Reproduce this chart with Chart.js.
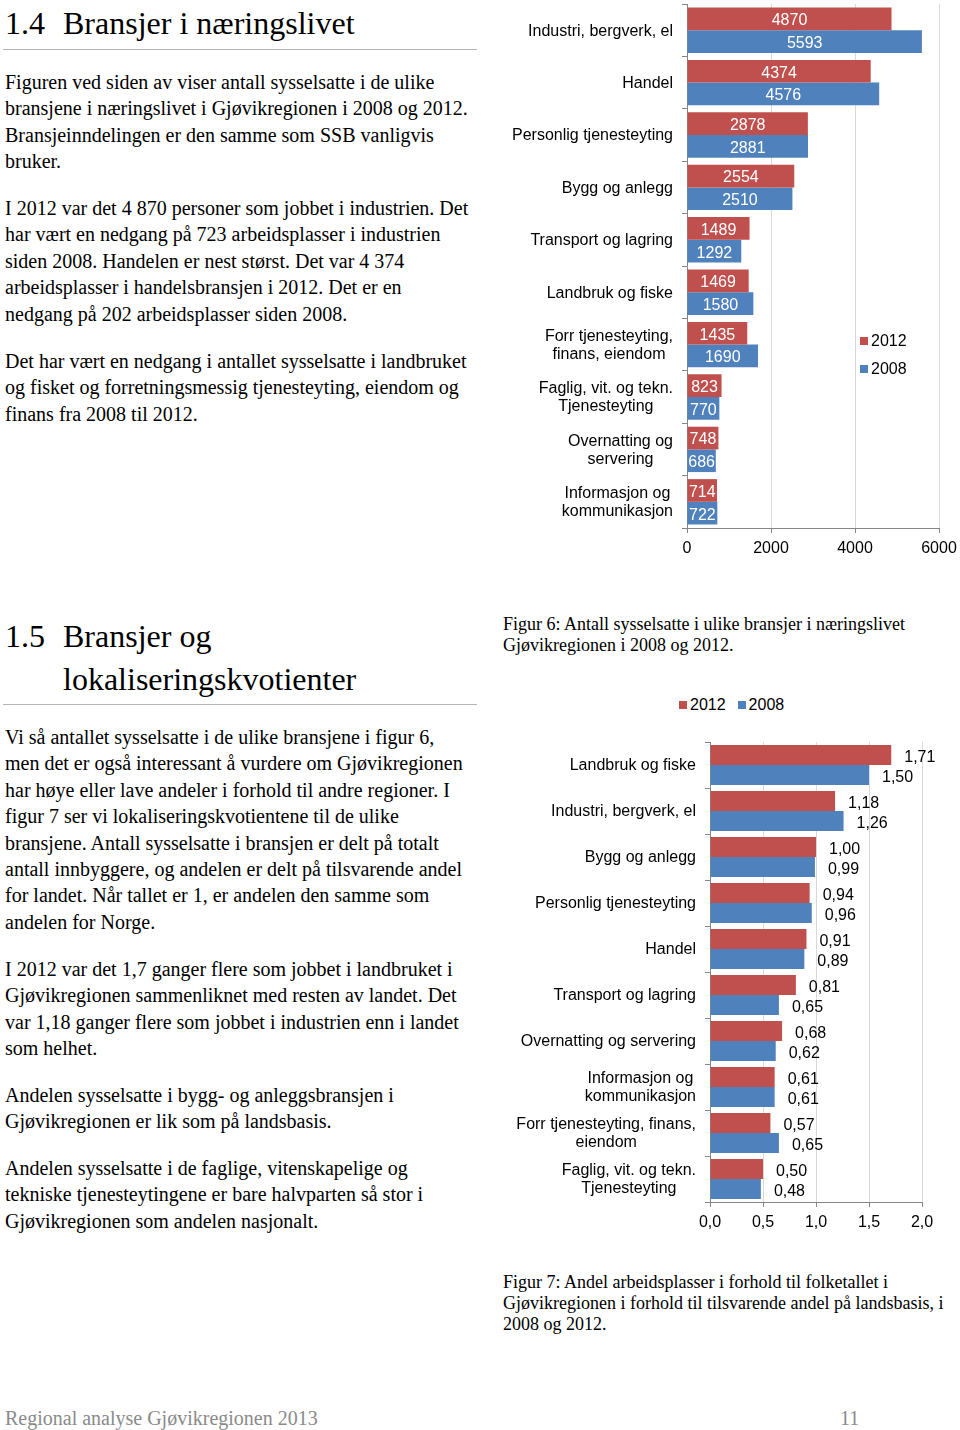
<!DOCTYPE html>
<html lang="no">
<head>
<meta charset="utf-8">
<title>Bransjer i næringslivet</title>
<script src="https://cdn.jsdelivr.net/npm/chart.js@4.4.1/dist/chart.umd.min.js"></script>
<style>
  html, body { margin: 0; padding: 0; background: #fff; }
  body { width: 960px; height: 1430px; position: relative; overflow: hidden;
         font-family: "Liberation Serif", "Times New Roman", serif; color: #000; }
  .abs { position: absolute; white-space: nowrap; }
  .h { font-size: 32px; }
  .p { font-size: 20px; line-height: 26.4px; left: 5px; }
  .cap { font-size: 18px; line-height: 21px; left: 503px; }
  .rule { position: absolute; left: 3px; width: 474px; height: 1px; background: #b4b4b4; }
  canvas { position: absolute; }
  .legend { position: absolute; font: 16px "Liberation Sans", Arial, sans-serif; color: #000; display: flex; }
  .legend .item { display: flex; align-items: center; height: 18px; line-height: 18px; }
  .legend .sw { width: 8px; height: 8px; margin-right: 3px; }
  .footer { font-size: 20px; color: #8a8a8a; top: 1406px; line-height: 24px; }
</style>
</head>
<body>

<div class="abs h" style="left:5px; top:3px; line-height:40px;">1.4</div>
<div class="abs h" style="left:63px; top:3px; line-height:40px;">Bransjer i næringslivet</div>
<div class="rule" style="top:49px;"></div>

<div class="abs p" style="top:69px;">Figuren ved siden av viser antall sysselsatte i de ulike<br>bransjene i næringslivet i Gjøvikregionen i 2008 og 2012.<br>Bransjeinndelingen er den samme som SSB vanligvis<br>bruker.</div>
<div class="abs p" style="top:195px;">I 2012 var det 4 870 personer som jobbet i industrien. Det<br>har vært en nedgang på 723 arbeidsplasser i industrien<br>siden 2008. Handelen er nest størst. Det var 4 374<br>arbeidsplasser i handelsbransjen i 2012. Det er en<br>nedgang på 202 arbeidsplasser siden 2008.</div>
<div class="abs p" style="top:348px;">Det har vært en nedgang i antallet sysselsatte i landbruket<br>og fisket og forretningsmessig tjenesteyting, eiendom og<br>finans fra 2008 til 2012.</div>

<div class="abs h" style="left:5px; top:615px; line-height:43px;">1.5</div>
<div class="abs h" style="left:63px; top:615px; line-height:43px;">Bransjer og<br>lokaliseringskvotienter</div>
<div class="rule" style="top:704px;"></div>

<div class="abs p" style="top:724px;">Vi så antallet sysselsatte i de ulike bransjene i figur 6,<br>men det er også interessant å vurdere om Gjøvikregionen<br>har høye eller lave andeler i forhold til andre regioner. I<br>figur 7 ser vi lokaliseringskvotientene til de ulike<br>bransjene. Antall sysselsatte i bransjen er delt på totalt<br>antall innbyggere, og andelen er delt på tilsvarende andel<br>for landet. Når tallet er 1, er andelen den samme som<br>andelen for Norge.</div>
<div class="abs p" style="top:956px;">I 2012 var det 1,7 ganger flere som jobbet i landbruket i<br>Gjøvikregionen sammenliknet med resten av landet. Det<br>var 1,18 ganger flere som jobbet i industrien enn i landet<br>som helhet.</div>
<div class="abs p" style="top:1082px;">Andelen sysselsatte i bygg- og anleggsbransjen i<br>Gjøvikregionen er lik som på landsbasis.</div>
<div class="abs p" style="top:1155px;">Andelen sysselsatte i de faglige, vitenskapelige og<br>tekniske tjenesteytingene er bare halvparten så stor i<br>Gjøvikregionen som andelen nasjonalt.</div>

<div class="abs cap" style="top:614px;">Figur 6: Antall sysselsatte i ulike bransjer i næringslivet<br>Gjøvikregionen i 2008 og 2012.</div>
<div class="abs cap" style="top:1272px;">Figur 7: Andel arbeidsplasser i forhold til folketallet i<br>Gjøvikregionen i forhold til tilsvarende andel på landsbasis, i<br>2008 og 2012.</div>

<div class="abs footer" style="left:5px;">Regional analyse Gjøvikregionen 2013</div>
<div class="abs footer" style="left:840px;">11</div>

<canvas id="jobsChart" width="480" height="570" style="left:480px; top:0px;"></canvas>
<div id="jobsLegend" class="legend" style="left:860px; top:332px; flex-direction:column; gap:10px;"></div>

<canvas id="lqChart" width="460" height="510" style="left:500px; top:730px;"></canvas>
<div id="lqLegend" class="legend" style="left:679px; top:696px; flex-direction:row; gap:12px;"></div>

<script>
// Figur 6: sysselsatte per bransje
const jobSectors = [
    'Industri, bergverk, el',
    'Handel',
    'Personlig tjenesteyting',
    'Bygg og anlegg',
    'Transport og lagring',
    'Landbruk og fiske',
    ['Forr tjenesteyting,', 'finans, eiendom'],
    ['Faglig, vit. og tekn.', 'Tjenesteyting'],
    ['Overnatting og', 'servering'],
    ['Informasjon og', 'kommunikasjon']
];
const jobs2012 = [4870, 4374, 2878, 2554, 1489, 1469, 1435, 823, 748, 714];
const jobs2008 = [5593, 4576, 2881, 2510, 1292, 1580, 1690, 770, 686, 722];
const jobsAxisMax = 6000;
const jobsAxisStep = 2000;

// Figur 7: lokaliseringskvotienter
const lqSectors = [
    'Landbruk og fiske',
    'Industri, bergverk, el',
    'Bygg og anlegg',
    'Personlig tjenesteyting',
    'Handel',
    'Transport og lagring',
    'Overnatting og servering',
    ['Informasjon og', 'kommunikasjon'],
    ['Forr tjenesteyting, finans,', 'eiendom'],
    ['Faglig, vit. og tekn.', 'Tjenesteyting']
];
const lq2012 = [1.71, 1.18, 1.00, 0.94, 0.91, 0.81, 0.68, 0.61, 0.57, 0.50];
const lq2008 = [1.50, 1.26, 0.99, 0.96, 0.89, 0.65, 0.62, 0.61, 0.65, 0.48];
const lqAxisMax = 2.0;
const lqAxisStep = 0.5;

const seriesNames = ['2012', '2008'];
const RED = '#C0504D';
const BLUE = '#4F81BD';
const FONT = '16px "Liberation Sans", Arial, sans-serif';

Chart.defaults.font.family = '"Liberation Sans", Arial, sans-serif';
Chart.defaults.font.size = 16;
Chart.defaults.color = '#000';

// number formatting, norsk desimalkomma
function fmt(v, decimals) {
    return decimals ? v.toFixed(decimals).replace('.', ',') : String(v);
}

// category labels drawn centred per block, block right aligned to axis
const categoryLabels = {
    id: 'categoryLabels',
    afterDraw(chart, args, opts) {
        const { ctx, chartArea } = chart;
        const yScale = chart.scales.y;
        ctx.save();
        ctx.font = FONT;
        ctx.fillStyle = '#000';
        ctx.textAlign = 'center';
        ctx.textBaseline = 'middle';
        chart.data.labels.forEach((lab, i) => {
            const lines = Array.isArray(lab) ? lab : [lab];
            const w = Math.max(...lines.map(l => ctx.measureText(l).width));
            const cx = chartArea.left - opts.gap - w / 2;
            const cy = yScale.getPixelForTick(i) + 1;
            lines.forEach((l, k) => {
                ctx.fillText(l, cx, cy + (k - (lines.length - 1) / 2) * 18);
            });
        });
        ctx.restore();
    }
};

// value labels on the bars
const barValues = {
    id: 'barValues',
    afterDatasetsDraw(chart, args, opts) {
        const { ctx } = chart;
        ctx.save();
        ctx.font = FONT;
        ctx.textBaseline = 'middle';
        chart.data.datasets.forEach((ds, di) => {
            chart.getDatasetMeta(di).data.forEach((bar, i) => {
                const text = fmt(ds.data[i], opts.decimals);
                if (opts.inside) {
                    ctx.fillStyle = '#fff';
                    ctx.textAlign = 'center';
                    ctx.fillText(text, (bar.x + bar.base) / 2, bar.y + 2);
                } else {
                    ctx.fillStyle = '#000';
                    ctx.textAlign = 'left';
                    ctx.fillText(text, bar.x + opts.offset, bar.y + 2.5);
                }
            });
        });
        ctx.restore();
    }
};

function makeLegend(id, datasets) {
    const box = document.getElementById(id);
    datasets.forEach(ds => {
        const item = document.createElement('div');
        item.className = 'item';
        const sw = document.createElement('span');
        sw.className = 'sw';
        sw.style.background = ds.backgroundColor;
        item.appendChild(sw);
        item.appendChild(document.createTextNode(ds.label));
        box.appendChild(item);
    });
}

function barOptions(cfg) {
    return {
        indexAxis: 'y',
        responsive: false,
        animation: false,
        layout: { padding: cfg.padding },
        plugins: {
            legend: { display: false },
            tooltip: { enabled: false },
            categoryLabels: { gap: 14 },
            barValues: cfg.values
        },
        scales: {
            x: {
                min: 0,
                max: cfg.max,
                ticks: {
                    stepSize: cfg.step,
                    padding: 6,
                    callback: v => fmt(v, cfg.tickDecimals)
                },
                grid: {
                    color: c => (c.tick && c.tick.value === 0) ? 'rgba(0,0,0,0)' : '#d9d9d9',
                    tickColor: '#868686',
                    tickLength: 5
                },
                border: { color: '#868686' },
                afterFit: s => {
                    s.height = cfg.xHeight;
                    s.paddingLeft = 0;
                    s.paddingRight = 0;
                }
            },
            y: {
                ticks: { display: false },
                grid: { drawOnChartArea: false, color: '#868686', tickLength: 5 },
                border: { color: '#868686' },
                afterFit: s => { s.width = cfg.yWidth; }
            }
        }
    };
}

const jobsData = {
    labels: jobSectors,
    datasets: [
        { label: seriesNames[0], data: jobs2012, backgroundColor: RED, barPercentage: 1, categoryPercentage: 0.866 },
        { label: seriesNames[1], data: jobs2008, backgroundColor: BLUE, barPercentage: 1, categoryPercentage: 0.866 }
    ]
};
new Chart(document.getElementById('jobsChart').getContext('2d'), {
    type: 'bar',
    data: jobsData,
    options: barOptions({
        padding: { top: 4, right: 21, bottom: 0, left: 0 },
        max: jobsAxisMax, step: jobsAxisStep, tickDecimals: 0,
        xHeight: 42, yWidth: 207,
        values: { inside: true, decimals: 0 }
    }),
    plugins: [categoryLabels, barValues]
});
makeLegend('jobsLegend', jobsData.datasets);

const lqData = {
    labels: lqSectors,
    datasets: [
        { label: seriesNames[0], data: lq2012, backgroundColor: RED, barPercentage: 1, categoryPercentage: 0.866 },
        { label: seriesNames[1], data: lq2008, backgroundColor: BLUE, barPercentage: 1, categoryPercentage: 0.866 }
    ]
};
new Chart(document.getElementById('lqChart').getContext('2d'), {
    type: 'bar',
    data: lqData,
    options: barOptions({
        padding: { top: 12, right: 38, bottom: 0, left: 0 },
        max: lqAxisMax, step: lqAxisStep, tickDecimals: 1,
        xHeight: 38, yWidth: 210,
        values: { inside: false, decimals: 2, offset: 13 }
    }),
    plugins: [categoryLabels, barValues]
});
makeLegend('lqLegend', lqData.datasets);
</script>
</body>
</html>
